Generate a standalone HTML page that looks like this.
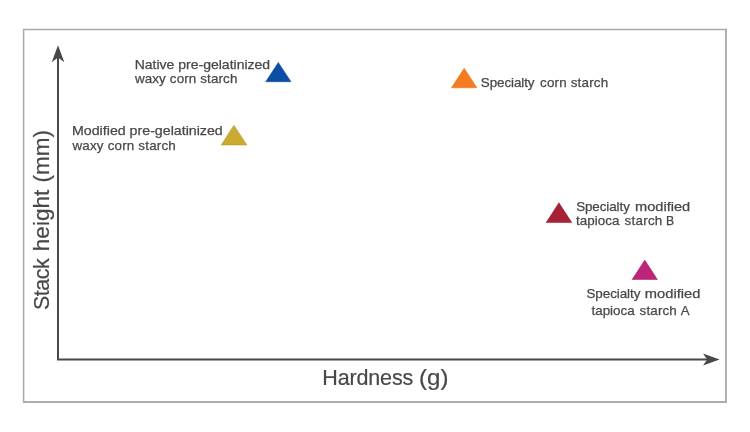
<!DOCTYPE html>
<html><head><meta charset="utf-8"><title>Chart</title>
<style>
html,body{margin:0;padding:0;background:#fff;}
svg{display:block}
text{font-family:"Liberation Sans",sans-serif;fill:#48484b;stroke:#48484b;stroke-width:.25px}
.l{font-size:13.4px}
.a{font-size:21.5px;stroke-width:.2px}
</style></head><body>
<svg width="750" height="432" viewBox="0 0 750 432">
<rect width="750" height="432" fill="#fff"/>
<path d="M23.6 402.9V29.4H727" fill="none" stroke="#a5aaaf" stroke-width="1.5"/>
<path d="M726 28.65V402H22.85" fill="none" stroke="#a9aeb3" stroke-width="1.9"/>
<path d="M58 52V359.4H708" fill="none" stroke="#48484b" stroke-width="2"/>
<path d="M58 45.3L64.3 62.2L58 57.6L51.7 62.2Z" fill="#48484b"/>
<path d="M719.6 359.4L703 353.4L707.2 359.4L703 365.6Z" fill="#48484b"/>
<polygon points="278.3,62.4 291,81.7 265.7,81.7" fill="#0b4ea3" stroke="#083f8c" stroke-width=".5"/>
<polygon points="233.9,125.2 246.9,145 221.2,145" fill="#c9a930" stroke="#b3932a" stroke-width=".5"/>
<polygon points="464.2,68.2 476.9,87.8 451.4,87.8" fill="#f47b20" stroke="#e06c14" stroke-width=".5"/>
<polygon points="558.95,202.7 571.8,222.55 546.2,222.55" fill="#a62038" stroke="#8f172c" stroke-width=".5"/>
<polygon points="644.8,260 657.4,279.5 632.1,279.5" fill="#bd247a" stroke="#a31a66" stroke-width=".5"/>
<text class="l" y="68.7"><tspan x="134.70" textLength="135.42" lengthAdjust="spacingAndGlyphs">Native pre-gelatinized</tspan></text>
<text class="l" y="83.4"><tspan x="134.90" textLength="102.50" lengthAdjust="spacing">waxy corn starch</tspan></text>
<text class="l" y="134.8"><tspan x="72.00" textLength="150.77" lengthAdjust="spacingAndGlyphs">Modified pre-gelatinized</tspan></text>
<text class="l" y="149.6"><tspan x="72.50" textLength="103.26" lengthAdjust="spacing">waxy corn starch</tspan></text>
<text class="l" y="87.1"><tspan x="480.85" textLength="53.65" lengthAdjust="spacing">Specialty</tspan> <tspan x="540.05" textLength="68.07" lengthAdjust="spacing">corn starch</tspan></text>
<text class="l" y="210.6"><tspan x="576.15" textLength="53.71" lengthAdjust="spacing">Specialty</tspan> <tspan x="635.05" textLength="55.10" lengthAdjust="spacingAndGlyphs">modified</tspan></text>
<text class="l" y="225.3"><tspan x="576.10" textLength="43.40" lengthAdjust="spacing">tapioca</tspan> <tspan x="624.60" textLength="37.68" lengthAdjust="spacing">starch</tspan> <tspan x="666.05" textLength="8.17" lengthAdjust="spacingAndGlyphs">B</tspan></text>
<text class="l" y="297.8"><tspan x="586.50" textLength="53.86" lengthAdjust="spacing">Specialty</tspan> <tspan x="644.85" textLength="55.52" lengthAdjust="spacingAndGlyphs">modified</tspan></text>
<text class="l" y="315.3"><tspan x="591.50" textLength="43.10" lengthAdjust="spacing">tapioca</tspan> <tspan x="639.55" textLength="37.24" lengthAdjust="spacing">starch</tspan> <tspan x="680.85" textLength="8.81" lengthAdjust="spacingAndGlyphs">A</tspan></text>
<text class="a" y="384.5"><tspan x="322.25" textLength="91.01" lengthAdjust="spacing">Hardness</tspan> <tspan x="419.05" textLength="29.43" lengthAdjust="spacingAndGlyphs">(g)</tspan></text>
<text class="a" transform="translate(48.5,0) rotate(-90)"><tspan x="-310.00" textLength="51.67" lengthAdjust="spacing">Stack</tspan> <tspan x="-251.30" textLength="61.69" lengthAdjust="spacingAndGlyphs">height</tspan> <tspan x="-182.45" textLength="52.33" lengthAdjust="spacingAndGlyphs">(mm)</tspan></text>
</svg>
</body></html>
